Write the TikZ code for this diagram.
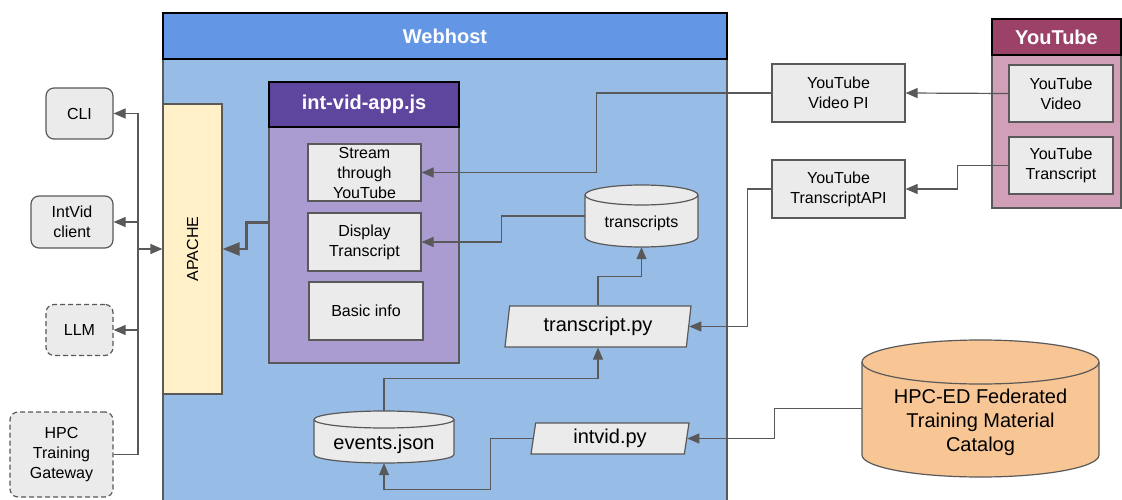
\documentclass[tikz,border=0pt]{standalone}
\usepackage{fontspec}
\setmainfont{Liberation Sans}
\usetikzlibrary{shapes.geometric,arrows.meta}

\definecolor{webhead}{HTML}{6496E6}
\definecolor{webbody}{HTML}{97BCE5}
\definecolor{apachefill}{HTML}{FFF0C8}
\definecolor{apphead}{HTML}{5E459E}
\definecolor{appbody}{HTML}{AA9CD0}
\definecolor{ythead}{HTML}{9C4168}
\definecolor{ytbody}{HTML}{D1A0B8}
\definecolor{catfill}{HTML}{F8C594}
\definecolor{boxgray}{HTML}{EBEBEB}
\definecolor{linegray}{HTML}{595959}

% cylinder outline: center x, center y, width, height, cap radius, fill
\newcommand\drawstore[6]{%
	\filldraw[draw=linegray,line width=1.2pt,fill=#6]
		({#1-#3/2},{#2-#4/2+#5}) -- ({#1-#3/2},{#2+#4/2-#5})
		arc[start angle=180,end angle=360,x radius={(#3/2)*1pt},y radius={#5*1pt}]
		-- ({#1+#3/2},{#2-#4/2+#5})
		arc[start angle=0,end angle=180,x radius={(#3/2)*1pt},y radius={#5*1pt}] -- cycle;
	\draw[draw=linegray,line width=1.2pt] ({#1-#3/2},{#2-#4/2+#5})
		arc[start angle=180,end angle=360,x radius={(#3/2)*1pt},y radius={#5*1pt}];
}

\begin{document}
\begin{tikzpicture}[x=1pt,y=-1pt,
	box/.style={draw=linegray,line width=1.2pt,fill=boxgray,align=center,
		inner sep=1pt,font=\fontsize{16}{20}\selectfont},
	client/.style={box,rounded corners=8pt},
	future/.style={client,dash pattern=on 5pt off 3pt},
	head/.style={draw=black,line width=1.2pt,text=white,
		font=\fontsize{20}{24}\selectfont\bfseries},
	frame/.style={draw=linegray,line width=1.2pt},
	store/.style={align=center,inner sep=0pt,text depth=0pt},
	script/.style={box,trapezium,trapezium left angle=76,trapezium right angle=104,
		trapezium stretches body,inner sep=0pt,font=\fontsize{20}{24}\selectfont},
	line/.style={draw=linegray,line width=1.2pt},
	arrow/.style={line,-{Triangle[length=12pt,width=10pt]}},
	bigarrow/.style={line,line width=2.2pt,-{Triangle[length=17pt,width=13pt]}}
	]
	
	\useasboundingbox (0,0) rectangle (1122,500);
	
	% webhost
	\node[frame,fill=webbody,minimum width=564,minimum height=446] (webhost) at (445,282) {};
	\node[head,fill=webhead,minimum width=564,minimum height=46] (webtitle) at (445,36) {Webhost};
	\node[box,fill=apachefill,minimum width=59,minimum height=290] (apache) at (192.5,249)
		{\rotatebox{90}{APACHE}};
	
	\node[frame,fill=appbody,minimum width=190,minimum height=281] (app) at (364,222.5) {};
	\node[head,fill=apphead,minimum width=190,minimum height=45] (apptitle) at (364,104.5) {int-vid-app.js};
	\node[box,minimum width=113,minimum height=57] (stream) at (364.5,172.5) {Stream\\through\\YouTube};
	\node[box,minimum width=113,minimum height=58] (display) at (364.5,242) {Display\\Transcript};
	\node[box,minimum width=114,minimum height=58] (basic) at (366,311) {Basic info};
	
	\drawstore{641.5}{216}{113}{62}{10}{boxgray}
	\node[store,minimum width=113,minimum height=62,text height=23.4pt,
		font=\fontsize{16}{20}\selectfont] (transcripts) at (641.5,216) {transcripts};
	\node[script,minimum width=186,minimum height=41] (transpy) at (598,326.5) {transcript.py};
	\drawstore{384}{437}{140}{52}{8.5}{boxgray}
	\node[store,minimum width=140,minimum height=52,text height=24.4pt,
		font=\fontsize{20}{24}\selectfont] (events) at (384,437) {events.json};
	\node[script,minimum width=158,minimum height=31] (intvidpy) at (610,438.5) {intvid.py};
	
	% clients
	\node[client,minimum width=67,minimum height=51] (cli) at (79.5,113.5) {CLI};
	\node[client,minimum width=82,minimum height=52] (intvid) at (72,222) {IntVid\\client};
	\node[future,minimum width=67,minimum height=51] (llm) at (79.5,330) {LLM};
	\node[future,minimum width=103,minimum height=85] (hpc) at (61.5,454.5) {HPC\\Training\\Gateway};
	\coordinate (bus) at (138,0);
	
	% youtube
	\node[frame,fill=ytbody,minimum width=129,minimum height=189] (youtube) at (1056.5,113.5) {};
	\node[head,fill=ythead,minimum width=129,minimum height=36] (yttitle) at (1056.5,37) {YouTube};
	\node[box,minimum width=104,minimum height=57] (ytvideo) at (1061,93.5) {YouTube\\Video};
	\node[box,minimum width=104,minimum height=57] (yttrans) at (1061,165.5) {YouTube\\Transcript};
	\node[box,minimum width=133,minimum height=58] (videopi) at (838.5,93) {YouTube\\Video PI};
	\node[box,minimum width=133,minimum height=58] (transapi) at (838.5,189) {YouTube\\TranscriptAPI};
	
	\drawstore{980.5}{408.5}{237}{137}{22}{catfill}
	\node[store,minimum width=237,minimum height=137,text height=85.4pt,
		font=\fontsize{20}{24}\selectfont] (catalog) at (980.5,408.5)
		{HPC-ED Federated\\Training Material\\Catalog};
	
	% connectors
	\draw[line] (hpc.east) -| (bus |- cli.east);
	\draw[arrow] (bus |- cli.east) -- (cli.east);
	\draw[arrow] (bus |- intvid.east) -- (intvid.east);
	\draw[arrow] (bus |- llm.east) -- (llm.east);
	\draw[arrow] (bus |- apache.west) -- (apache.west);
	\draw[bigarrow] (app.west) -- ++(-22,0) |- (apache.east);
	
	\draw[arrow] (ytvideo.west) -- (videopi.east);
	\draw[arrow] (yttrans.west) -- ++(-51,0) |- (transapi.east);
	\draw[arrow] (videopi.west) -- ++(-175,0) |- (stream.east);
	\draw[arrow] (transcripts.west) -- ++(-83,0) |- (display.east);
	\draw[arrow] (transpy.north) -- ++(0,-29) -| (transcripts.south);
	\draw[arrow] (transapi.west) -- ++(-24,0) |- (transpy.east);
	\draw[arrow] (events.north) -- ++(0,-32) -| (transpy.south);
	\draw[arrow] (intvidpy.west) -- ++(-42,0) -- ++(0,51) -| (events.south);
	\draw[arrow] (catalog.west) -- ++(-87,0) |- (intvidpy.east);
	
\end{tikzpicture}
\end{document}
